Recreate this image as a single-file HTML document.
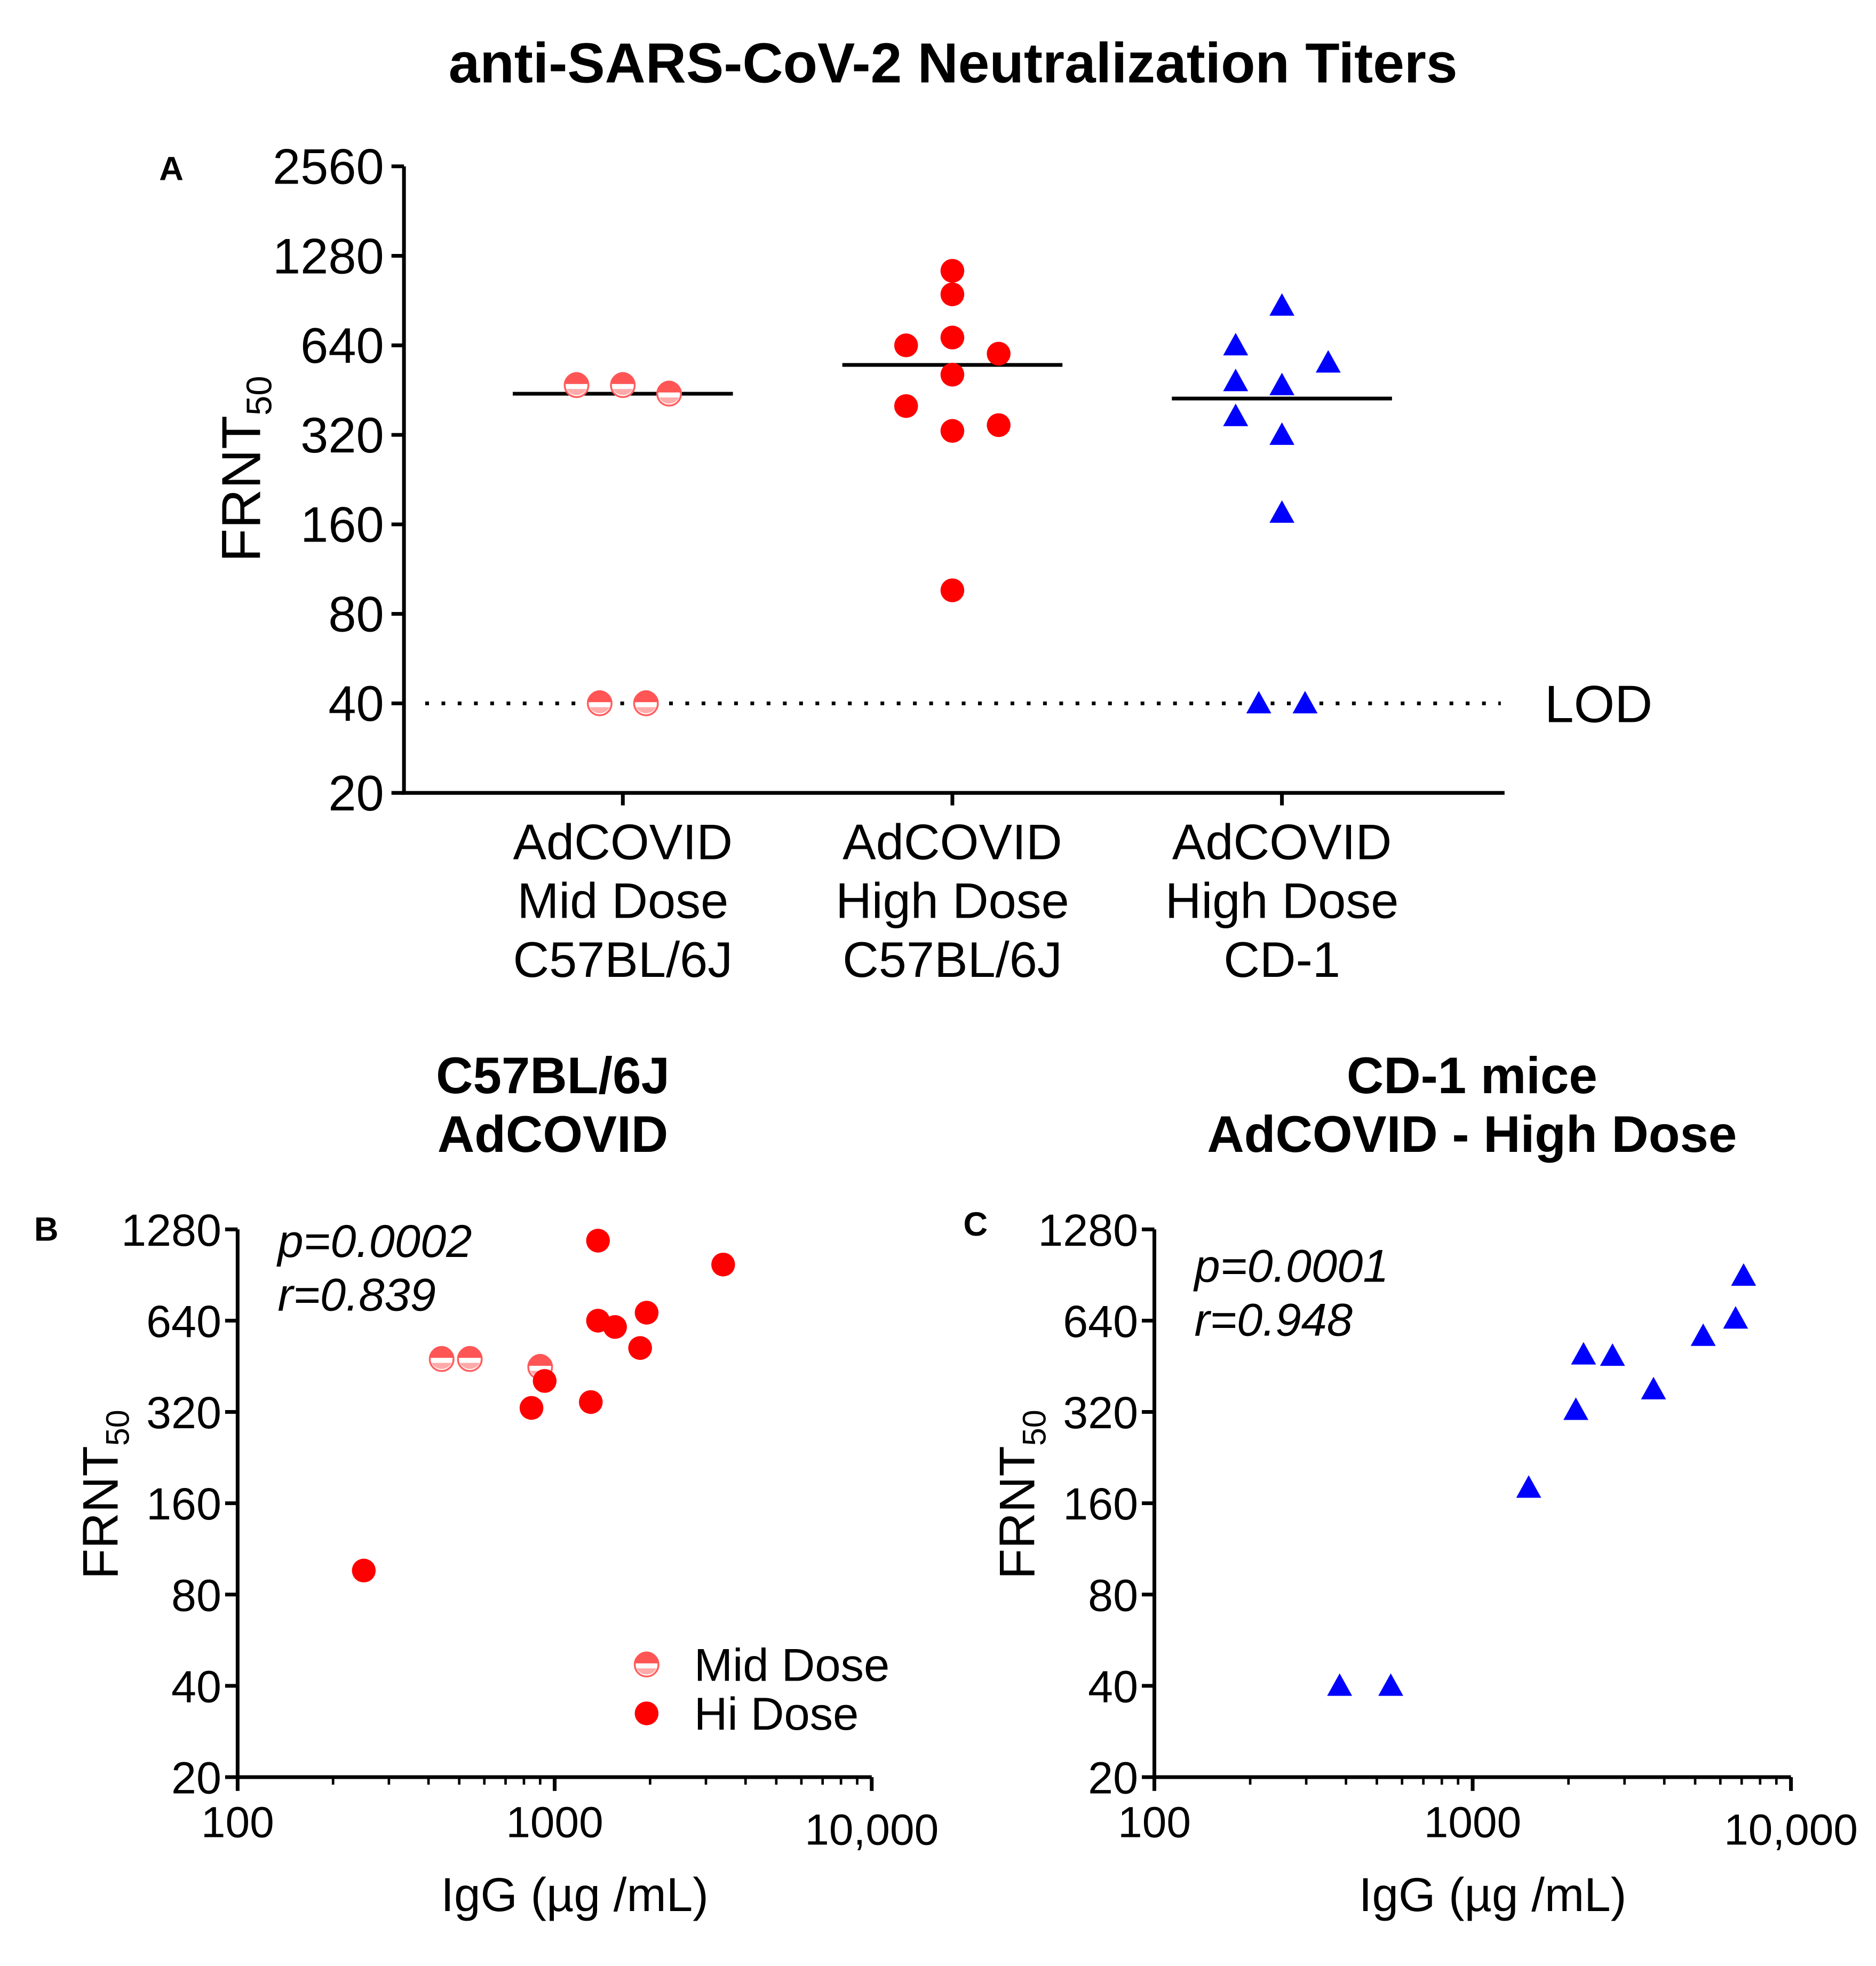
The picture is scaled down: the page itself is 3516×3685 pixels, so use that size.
<!DOCTYPE html>
<html><head><meta charset="utf-8"><style>
html,body{margin:0;padding:0;background:#fff;}
svg{display:block;font-family:"Liberation Sans",Arial,sans-serif;}
</style></head><body>
<svg id="fig" width="3516" height="3685" viewBox="0 0 1500 1572" preserveAspectRatio="none" xmlns="http://www.w3.org/2000/svg">
<text x="762" y="66" font-size="45" font-weight="bold" text-anchor="middle">anti-SARS-CoV-2 Neutralization Titers</text>
<text x="137" y="144" font-size="27" font-weight="bold" text-anchor="middle">A</text>
<text x="37" y="992" font-size="27" font-weight="bold" text-anchor="middle">B</text>
<text x="780" y="988" font-size="27" font-weight="bold" text-anchor="middle">C</text>
<text x="442" y="874" font-size="41" font-weight="bold" text-anchor="middle">C57BL/6J</text>
<text x="442" y="921" font-size="41" font-weight="bold" text-anchor="middle">AdCOVID</text>
<text x="1177" y="874" font-size="41" font-weight="bold" text-anchor="middle">CD-1 mice</text>
<text x="1177" y="921" font-size="41" font-weight="bold" text-anchor="middle">AdCOVID - High Dose</text>
<g id="ga"></g>
<g id="gb"></g>
<g id="gc"></g>
</svg>
<script>
// Panel A data
const aCategories = [["AdCOVID","Mid Dose","C57BL/6J"],["AdCOVID","High Dose","C57BL/6J"],["AdCOVID","High Dose","CD-1"]];
const aYTicks = [20,40,80,160,320,640,1280,2560];
const aMidValues = [470,470,440,40,40];
const aMidJitter = [-1,0,1,-0.5,0.5];
const aHighValues = [1140,950,640,680,600,510,400,330,345,96];
const aHighJitter = [0,0,-1,0,1,0,-1,0,1,0];
const aCd1Values = [870,640,560,485,470,370,320,175,40,40];
const aCd1Jitter = [0,-1,1,-1,0,-1,0,0,-0.5,0.5];
const aMedians = [440,550,424];
// Panel B data
const bMidIgG = [440,540,900];
const bMidTiter = [478,478,450];
const bHiIgG = [1370,3400,1370,1550,1950,1860,930,845,1300,250];
const bHiTiter = [1175,980,640,610,680,520,405,330,345,96];
// Panel C data
const cIgG = [382,553,1500,2110,2230,2750,3700,5300,6700,7100];
const cTiter = [40,40,180,325,495,490,380,570,650,900];
const xyTicks = [20,40,80,160,320,640,1280];
const xTicks = [100,1000,10000];
const xTickLabels = ["100","1000","10,000"];

const NS="http://www.w3.org/2000/svg";
function mk(parent,tag,attrs,text){const e=document.createElementNS(NS,tag);for(const k in attrs)e.setAttribute(k,attrs[k]);if(text!==undefined)e.textContent=text;parent.appendChild(e);return e;}
const RED="#ff0000",BLUE="#0000ff";
function circle(g,x,y,half){
  if(half){
    const c=mk(g,'circle',{cx:x,cy:y,r:9.5,fill:'#fff',stroke:'#ff6060','stroke-width':1.5});
    
    
    mk(g,'path',{d:`M${x-9.5},${y-1} A9.5,9.5 0 0 1 ${x+9.5},${y-1} Z`,fill:'#ff5555'});
    mk(g,'path',{d:`M${x-8},${y+3} L${x+8},${y+3} A9,9 0 0 1 ${x-8},${y+3}Z`,fill:'#ffaaaa'});
  } else {
    const c=mk(g,'circle',{cx:x,cy:y,r:9.5,fill:RED});
    
    
  }
}
function tri(g,x,y){
  const t=mk(g,'polygon',{points:`${x},${y-10} ${x+10},${y+8} ${x-10},${y+8}`,fill:BLUE});
  
  
}
function yLabel(g,x,y,fs){
  const t=mk(g,'text',{transform:`translate(${x},${y}) rotate(-90)`,'font-size':fs,'text-anchor':'middle'});
  
  
  t.appendChild(document.createTextNode('FRNT'));
  mk(t,'tspan',{'font-size':fs*0.65,dy:9},'50');
}

// ---- Panel A ----
(function(){
  const g=document.getElementById('ga');
  const x0=323,x1=1203,yTop=133,yBot=634;
  const y=v=>yBot-(Math.log2(v/20))*(yBot-yTop)/7;
  const cx=i=>498+i*263.5;
  const jit=37;
  const ax=mk(g,'path',{d:`M${x0},${yTop} V${yBot} H${x1}`,stroke:'#000','stroke-width':3,fill:'none'});
  
  
  aYTicks.forEach(v=>{
    mk(g,'line',{x1:x0-10,x2:x0,y1:y(v),y2:y(v),stroke:'#000','stroke-width':3});
    const t=mk(g,'text',{x:x0-16,y:y(v)+14,'font-size':40,'text-anchor':'end'},v);
    
    
  });
  aCategories.forEach((lines,i)=>{
    mk(g,'line',{x1:cx(i),x2:cx(i),y1:yBot,y2:yBot+10,stroke:'#000','stroke-width':3});
    lines.forEach((l,j)=>{
      const t=mk(g,'text',{x:cx(i),y:687+j*47,'font-size':40,'text-anchor':'middle'},l);
      
      
    });
  });
  yLabel(g,208,375,44);
  const lod=mk(g,'line',{x1:340,x2:1200,y1:y(40),y2:y(40),stroke:'#000','stroke-width':3,'stroke-dasharray':'3 10'});
  
  
  const lt=mk(g,'text',{x:1235,y:y(40)+15,'font-size':42},'LOD');
  
  
  aMedians.forEach((m,i)=>{
    const l=mk(g,'line',{x1:cx(i)-88,x2:cx(i)+88,y1:y(m),y2:y(m),stroke:'#000','stroke-width':3});
    
    
  });
  aMidValues.forEach((v,k)=>circle(g,cx(0)+aMidJitter[k]*jit,y(v),true));
  aHighValues.forEach((v,k)=>circle(g,cx(1)+aHighJitter[k]*jit,y(v),false));
  aCd1Values.forEach((v,k)=>tri(g,cx(2)+aCd1Jitter[k]*jit,y(v)));
})();

// ---- Scatter panels ----
function scatter(g,x0,x1,drawPts,ylx){
  const yTop=983,yBot=1421;
  const y=v=>yBot-(Math.log2(v/20))*(yBot-yTop)/6;
  const x=v=>x0+(Math.log10(v)-2)*(x1-x0)/2;
  const ax=mk(g,'path',{d:`M${x0},${yTop} V${yBot} H${x1}`,stroke:'#000','stroke-width':3,fill:'none'});
  
  
  xyTicks.forEach(v=>{
    mk(g,'line',{x1:x0-10,x2:x0,y1:y(v),y2:y(v),stroke:'#000','stroke-width':3});
    const t=mk(g,'text',{x:x0-13,y:y(v)+13,'font-size':36,'text-anchor':'end'},v);
    
    
  });
  for(let d=100;d<10000;d*=10){for(let m=2;m<=9;m++){const xx=x(d*m);mk(g,'line',{x1:xx,x2:xx,y1:yBot,y2:yBot+6,stroke:'#000','stroke-width':2});}}
  xTicks.forEach((v,i)=>{
    mk(g,'line',{x1:x(v),x2:x(v),y1:yBot,y2:yBot+11,stroke:'#000','stroke-width':3});
    const t=mk(g,'text',{x:x(v),y:i==2?1475:1469,'font-size':35,'text-anchor':'middle'},xTickLabels[i]);
    
    
  });
  const xt=mk(g,'text',{x:(x0+x1)/2+16,y:1528,'font-size':38,'text-anchor':'middle'},'IgG (µg  /mL)');
  
  
  yLabel(g,ylx,1195,40);
  drawPts(x,y);
}
const gb=document.getElementById('gb');
scatter(gb,190,697,(x,y)=>{
  bMidIgG.forEach((v,i)=>circle(gb,x(v),y(bMidTiter[i]),true));
  bHiIgG.forEach((v,i)=>circle(gb,x(v),y(bHiTiter[i]),false));
},94);
[["p=0.0002",1005],["r=0.839",1048]].forEach(([s,yy])=>{const t=mk(gb,'text',{x:222,y:yy,'font-size':37,'font-style':'italic'},s);});
circle(gb,517,1331,true);circle(gb,517,1370,false);
const l1=mk(gb,'text',{x:555,y:1344,'font-size':37},'Mid Dose');


const l2=mk(gb,'text',{x:555,y:1383,'font-size':37},'Hi Dose');



const gc=document.getElementById('gc');
scatter(gc,923,1432,(x,y)=>{
  cIgG.forEach((v,i)=>tri(gc,x(v),y(cTiter[i])));
},827);
[["p=0.0001",1025],["r=0.948",1068]].forEach(([s,yy])=>{const t=mk(gc,'text',{x:955,y:yy,'font-size':37,'font-style':'italic'},s);});
</script>
</body></html>
